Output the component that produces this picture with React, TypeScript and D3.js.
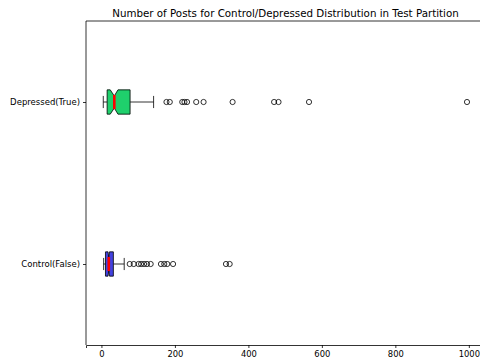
import React, { useEffect, useRef } from "react";
import * as d3 from "d3";

// Group labels and their box positions on the y axis
const groups = ["Control(False)", "Depressed(True)"];
const positions = [1, 2];
const boxColors = ["#4242e0", "#1fd06c"];

// Five-number summaries with notch confidence bounds (number of posts)
const whiskerLow = [6, 5];
const q1 = [11, 15.5];
const median = [20, 35];
const q3 = [32.5, 78];
const whiskerHigh = [62, 142];
const notchLow = [18, 24];
const notchHigh = [22, 45];

// Outliers beyond 1.5 IQR
const controlFliers = [77, 88, 101, 108, 116, 124, 134, 162, 171, 179, 195, 339, 349];
const depressedFliers = [177, 186, 220, 226, 233, 258, 278, 357, 470, 482, 565, 995];
const fliers = [controlFliers, depressedFliers];

const xTicks = [0, 200, 400, 600, 800, 1000];
const title = "Number of Posts for Control/Depressed Distribution in Test Partition";

const W = 480;
const H = 358;
const left = 86;
const right = 485;
const top = 21;
const bottom = 345;
const FONT = "DejaVu Sans, sans-serif";

export default function App() {
  const ref = useRef<SVGSVGElement>(null);

  useEffect(() => {
    const svg = d3.select(ref.current);
    svg.selectAll("*").remove();

    const x = d3.scaleLinear().domain([-42, 1044]).range([left, right]);
    const y = d3.scaleLinear().domain([0.5, 2.5]).range([bottom, top]);
    const boxWidth = 0.15;
    const h = (y(0) - y(boxWidth)) / 2;

    const plot = svg.append("g");

    positions.forEach((p, i) => {
      const yc = y(p);
      const g = plot.append("g");
      // whiskers
      g.append("line")
        .attr("x1", x(whiskerLow[i])).attr("x2", x(q1[i]))
        .attr("y1", yc).attr("y2", yc)
        .attr("stroke", "#000").attr("stroke-width", 0.8);
      g.append("line")
        .attr("x1", x(q3[i])).attr("x2", x(whiskerHigh[i]))
        .attr("y1", yc).attr("y2", yc)
        .attr("stroke", "#000").attr("stroke-width", 0.8);
      // caps
      [whiskerLow[i], whiskerHigh[i]].forEach((v) => {
        g.append("line")
          .attr("x1", x(v)).attr("x2", x(v))
          .attr("y1", yc - h / 2).attr("y2", yc + h / 2)
          .attr("stroke", "#000").attr("stroke-width", 0.8);
      });
      // notched box
      const pts: [number, number][] = [
        [x(q1[i]), yc - h],
        [x(notchLow[i]), yc - h],
        [x(median[i]), yc - h / 2],
        [x(notchHigh[i]), yc - h],
        [x(q3[i]), yc - h],
        [x(q3[i]), yc + h],
        [x(notchHigh[i]), yc + h],
        [x(median[i]), yc + h / 2],
        [x(notchLow[i]), yc + h],
        [x(q1[i]), yc + h],
      ];
      g.append("path")
        .attr("d", d3.line()(pts) + "Z")
        .attr("fill", boxColors[i])
        .attr("stroke", "#000")
        .attr("stroke-width", 0.8)
        .attr("stroke-linejoin", "miter");
      // median
      g.append("line")
        .attr("x1", x(median[i])).attr("x2", x(median[i]))
        .attr("y1", yc - h / 2 - 1).attr("y2", yc + h / 2 + 1)
        .attr("stroke", "#ff0000").attr("stroke-width", 2.6);
      // outliers
      g.selectAll("circle.f")
        .data(fliers[i])
        .join("circle")
        .attr("cx", (d) => x(d))
        .attr("cy", yc)
        .attr("r", 2.6)
        .attr("fill", "none")
        .attr("stroke", "#000")
        .attr("stroke-width", 0.8);
    });

    // spines
    svg.append("line").attr("x1", left).attr("x2", left).attr("y1", top).attr("y2", bottom)
      .attr("stroke", "#000").attr("stroke-width", 0.8);
    svg.append("line").attr("x1", left).attr("x2", right).attr("y1", top).attr("y2", top)
      .attr("stroke", "#000").attr("stroke-width", 0.8);

    const xAxis = svg.append("g")
      .attr("transform", `translate(0,${bottom})`)
      .call(d3.axisBottom(x).tickValues(xTicks).tickFormat(d3.format("d")).tickSize(3).tickPadding(3));
    xAxis.select(".domain").attr("stroke", "#000").attr("stroke-width", 0.8);
    xAxis.selectAll(".tick line").attr("stroke-width", 0.8);
    xAxis.selectAll("text").attr("font-family", FONT).attr("font-size", 8.4).attr("fill", "#000");

    const yAxis = svg.append("g")
      .attr("transform", `translate(${left},0)`)
      .call(d3.axisLeft(y).tickValues(positions).tickFormat((d, i) => groups[i]).tickSize(3).tickPadding(3));
    yAxis.select(".domain").remove();
    yAxis.selectAll(".tick line").attr("stroke-width", 0.8);
    yAxis.selectAll("text").attr("font-family", FONT).attr("font-size", 8.5).attr("fill", "#000");

    svg.append("text")
      .attr("x", (left + right) / 2)
      .attr("y", 17)
      .attr("text-anchor", "middle")
      .attr("font-family", FONT)
      .attr("font-size", 10.3)
      .attr("fill", "#000")
      .text(title);
  }, []);

  return (
    <svg
      ref={ref}
      width={W}
      height={H}
      style={{ position: "absolute", left: 0, top: 0, background: "#fff" }}
    />
  );
}
